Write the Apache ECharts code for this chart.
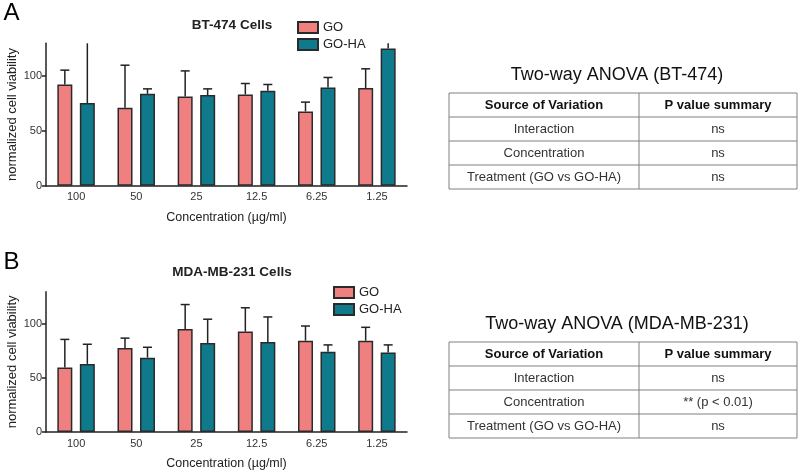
<!DOCTYPE html>
<html>
<head>
<meta charset="utf-8">
<script src="https://cdn.jsdelivr.net/npm/echarts@6/dist/echarts.min.js"></script>
<style>
html,body{margin:0;padding:0;background:#fff;}
#chart{width:800px;height:471px;}
</style>
</head>
<body>
<div id="chart"></div>
<script>
// ---- data ----
const categories = ['100', '50', '25', '12.5', '6.25', '1.25'];
const seriesNames = ['GO', 'GO-HA'];

const bt474GO = [92.4, 71.1, 81.5, 83.3, 67.8, 89.1];
const bt474GOsd = [13.1, 38.9, 23.3, 10.0, 8.5, 17.6];
const bt474GOHA = [75.4, 83.9, 82.7, 86.6, 89.7, 125.2];
const bt474GOHAsd = [70.0, 4.5, 5.7, 5.8, 9.1, 6.0];

const mdaGO = [59.8, 77.9, 95.5, 93.1, 84.6, 84.6];
const mdaGOsd = [26.0, 9.1, 22.6, 22.0, 13.6, 12.4];
const mdaGOHA = [63.1, 68.9, 82.5, 83.4, 74.3, 73.7];
const mdaGOHAsd = [18.2, 9.6, 22.0, 23.2, 6.4, 7.0];

const yTicks = [0, 50, 100];
const chartTitles = ['BT-474 Cells', 'MDA-MB-231 Cells'];
const panelLetters = ['A', 'B'];

const tableTitles = ['Two-way ANOVA (BT-474)', 'Two-way ANOVA (MDA-MB-231)'];
const tableHeader = ['Source of Variation', 'P value summary'];
const tableSources = ['Interaction', 'Concentration', 'Treatment (GO vs GO-HA)'];
const bt474P = ['ns', 'ns', 'ns'];
const mdaP = ['ns', '** (p < 0.01)', 'ns'];

// ---- styles ----
const FONT = 'Liberation Sans, Arial, sans-serif';
const COLORS = ['#F08080', '#0E7A8C'];
const YMAX = 130;
const BAR_W = 15;
const BAR_GAP = 0.5;
const OFFSET = (BAR_W + BAR_W * BAR_GAP) / 2;

const panels = [
  {go: bt474GO, goSd: bt474GOsd, ha: bt474GOHA, haSd: bt474GOHAsd, top: 43.3, legendTop: 16, legendLeft: 292, titleTop: 13},
  {go: mdaGO, goSd: mdaGOsd, ha: mdaGOHA, haSd: mdaGOHAsd, top: 291.7, legendTop: 281, legendLeft: 328, titleTop: 260}
];
const GRID_H = 142.4;

function errRender(offset) {
  return function (params, api) {
    const ci = api.value(0), mean = api.value(1), sd = api.value(2);
    let top = mean + sd;
    const clipped = top > YMAX;
    if (clipped) top = YMAX;
    const p0 = api.coord([ci, mean]);
    const p1 = api.coord([ci, top]);
    const x = p0[0] + offset;
    const style = {stroke: '#222', lineWidth: 1.5};
    const children = [{type: 'line', shape: {x1: x, y1: p0[1], x2: x, y2: p1[1]}, style: style}];
    if (!clipped) children.push({type: 'line', shape: {x1: x - 4.5, y1: p1[1], x2: x + 4.5, y2: p1[1]}, style: style});
    return {type: 'group', children: children};
  };
}

const grid = [], xAxis = [], yAxis = [], series = [], legend = [], title = [];
panels.forEach((p, i) => {
  grid.push({left: 46, right: 393, top: p.top, height: GRID_H});
  xAxis.push({
    type: 'category', gridIndex: i, data: categories,
    axisLine: {lineStyle: {color: '#222', width: 1.5}},
    axisTick: {show: false},
    axisLabel: {color: '#333', fontSize: 11, fontFamily: FONT, margin: 6},
    name: 'Concentration (\u00b5g/ml)', nameLocation: 'middle', nameGap: 25,
    nameTextStyle: {color: '#222', fontSize: 12.5, fontFamily: FONT}
  });
  yAxis.push({
    type: 'value', gridIndex: i, min: 0, max: YMAX,
    axisLine: {show: true, lineStyle: {color: '#222', width: 1.5}},
    axisTick: {show: true, length: 4, customValues: yTicks, lineStyle: {color: '#222', width: 1.5}},
    axisLabel: {color: '#333', fontSize: 11, fontFamily: FONT, margin: 4, customValues: yTicks},
    splitLine: {show: false},
    name: 'normalized cell viability', nameLocation: 'middle', nameGap: 27,
    nameTextStyle: {color: '#222', fontSize: 13, fontFamily: FONT}
  });
  const sets = [[p.go, p.goSd], [p.ha, p.haSd]];
  sets.forEach((s, k) => {
    series.push({
      name: seriesNames[k], type: 'bar', xAxisIndex: i, yAxisIndex: i,
      data: s[0], barWidth: BAR_W, barGap: (BAR_GAP * 100) + '%',
      itemStyle: {color: COLORS[k], borderColor: '#2a2a2a', borderWidth: 1.5},
      z: 2
    });
  });
  sets.forEach((s, k) => {
    series.push({
      name: seriesNames[k] + ' SD', type: 'custom', xAxisIndex: i, yAxisIndex: i,
      data: s[0].map((v, ci) => [ci, v, s[1][ci]]),
      encode: {x: 0, y: 1},
      renderItem: errRender(k === 0 ? -OFFSET : OFFSET),
      z: 3, silent: true
    });
  });
  legend.push({
    orient: 'vertical', left: p.legendLeft, top: p.legendTop,
    data: seriesNames, itemWidth: 20, itemHeight: 11, itemGap: 4,
    icon: 'rect',
    textStyle: {fontSize: 13, color: '#222', fontFamily: FONT},
    selectedMode: false
  });
  title.push({
    text: chartTitles[i], left: 227, top: p.titleTop, textAlign: 'center',
    textStyle: {fontSize: 13.5, fontWeight: 'bold', color: '#222', fontFamily: FONT}
  });
});

// ---- tables & letters via graphic ----
const graphic = [];
const TX0 = 449, TX1 = 639, TX2 = 797, ROW_H = 24;
const tables = [{title: tableTitles[0], vals: bt474P, titleY: 75, top: 93},
                {title: tableTitles[1], vals: mdaP, titleY: 324, top: 342}];
tables.forEach(t => {
  graphic.push({type: 'text', x: (TX0 + TX2) / 2 - 6, y: t.titleY,
    style: {text: t.title, fontSize: 18, fontFamily: FONT, fill: '#111', textAlign: 'center', textVerticalAlign: 'middle'}});
  const nRows = tableSources.length + 1;
  const lineStyle = {stroke: '#808080', lineWidth: 1};
  for (let r = 0; r <= nRows; r++) {
    const y = t.top + r * ROW_H;
    graphic.push({type: 'line', shape: {x1: TX0, y1: y, x2: TX2, y2: y}, style: lineStyle});
  }
  [TX0, TX1, TX2].forEach(x => {
    graphic.push({type: 'line', shape: {x1: x, y1: t.top, x2: x, y2: t.top + nRows * ROW_H}, style: lineStyle});
  });
  const rows = [[tableHeader[0], tableHeader[1]]].concat(tableSources.map((s, j) => [s, t.vals[j]]));
  rows.forEach((row, r) => {
    const cy = t.top + r * ROW_H + ROW_H / 2;
    row.forEach((txt, c) => {
      graphic.push({type: 'text', x: c === 0 ? (TX0 + TX1) / 2 : (TX1 + TX2) / 2, y: cy,
        style: {text: txt, fontSize: 13, fontFamily: FONT, fontWeight: r === 0 ? 'bold' : 'normal',
          fill: r === 0 ? '#111' : '#333', textAlign: 'center', textVerticalAlign: 'middle'}});
    });
  });
});
[[panelLetters[0], 13.5], [panelLetters[1], 262]].forEach(l => {
  graphic.push({type: 'text', x: 11.5, y: l[1], style: {text: l[0], fontSize: 24, fontFamily: FONT, fill: '#000', textAlign: 'center', textVerticalAlign: 'middle'}});
});

const chart = echarts.init(document.getElementById('chart'), null, {renderer: 'canvas'});
chart.setOption({
  animation: false,
  backgroundColor: '#fff',
  title: title, grid: grid, xAxis: xAxis, yAxis: yAxis, legend: legend, series: series,
  graphic: graphic
});
</script>
</body>
</html>
